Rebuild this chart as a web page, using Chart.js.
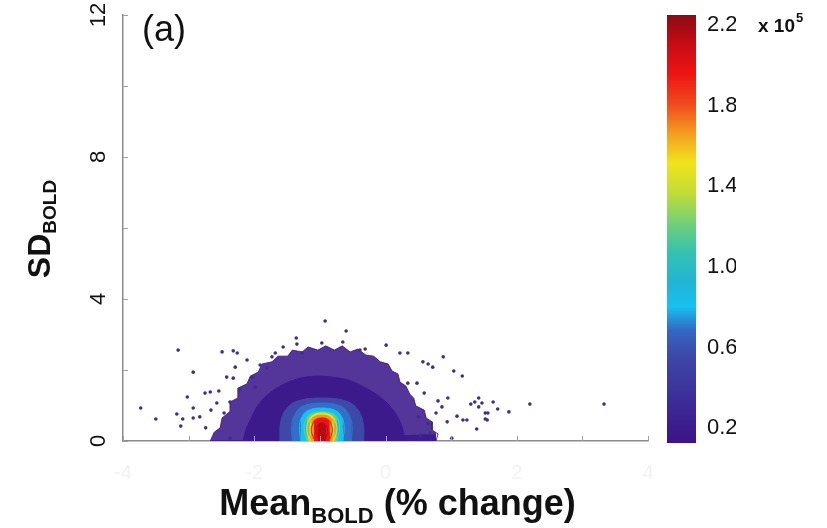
<!DOCTYPE html>
<html>
<head>
<meta charset="utf-8">
<script src="https://cdn.jsdelivr.net/npm/chart.js@4.4.1/dist/chart.umd.min.js"></script>
<style>
  html, body { margin: 0; padding: 0; background: #fff; }
  #wrap { width: 827px; height: 528px; }
</style>
</head>
<body>
<div id="wrap"><canvas id="densityChart" width="827" height="528"></canvas></div>
<script>
// axes
const xTickLabels = [-4, -2, 0, 2, 4];
const yTickLabels = [0, 4, 8, 12];

// colour bar (x 10^5 voxels)
const cbTicks = [0.2, 0.6, 1.0, 1.4, 1.8, 2.2];
const cbRange = [0.137, 2.25];
const cbStopValues = [0.137, 0.2, 0.566, 0.69, 0.81, 0.93, 1.08, 1.22, 1.37, 1.52, 1.66, 1.81, 1.96, 2.10, 2.25];
const cbStopColors = ['#3a1588', '#3c1a8c', '#3d48a8', '#3566c4', '#18c0f0', '#22b4d4', '#35c2b0',
  '#70d07a', '#c0dc38', '#f0e418', '#f4a020', '#f04a1c', '#ee1414', '#c80c14', '#8c0a14'];

// isolated voxels outside the dense cloud
const sparsePoints = [
  [-3.73, 0.93], [-3.50, 0.62], [-3.18, 0.76], [-3.12, 0.42], [-3.16, 2.56], [-3.09, 0.62],
  [-3.02, 1.24], [-2.93, 1.94], [-2.93, 0.93], [-2.93, 0.65], [-2.83, 0.68], [-2.75, 1.35],
  [-2.74, 0.37], [-2.67, 1.38], [-2.66, 0.87], [-2.57, 1.07], [-2.54, 1.41], [-2.49, 2.51],
  [-2.46, 0.79], [-2.42, 1.80], [-2.37, 1.10], [-2.37, 0.08], [-2.32, 2.54], [-2.32, 1.77],
  [-2.29, 2.08], [-2.26, 2.48], [-2.22, 1.44], [-2.11, 2.28], [-2.03, 1.80], [-1.99, 1.52],
  [-1.91, 2.14], [-1.81, 2.06], [-1.73, 2.37], [-1.68, 2.48], [-1.56, 2.65], [-1.36, 2.90],
  [-1.35, 2.73], [-1.27, 2.48], [-0.92, 3.38], [-0.60, 3.10], [-0.97, 2.76], [-0.65, 2.79],
  [-0.39, 2.56], [-0.31, 2.59], [0.01, 2.70], [0.22, 2.48], [0.34, 2.48], [0.57, 2.23],
  [0.65, 2.17], [0.72, 2.08], [0.88, 2.37], [1.04, 1.97], [1.17, 1.83], [0.34, 1.63],
  [0.48, 1.63], [0.59, 1.35], [0.95, 1.21], [0.80, 1.13], [1.36, 1.10], [1.30, 1.04],
  [1.42, 0.96], [1.47, 1.07], [1.42, 1.21], [1.64, 1.10], [1.71, 0.90], [1.88, 0.82],
  [2.20, 1.04], [3.33, 1.04], [1.09, 0.70], [1.18, 0.59], [0.94, 0.54], [0.77, 0.79],
  [0.65, 0.48], [0.53, 0.17], [1.01, 0.08], [1.24, 0.59], [1.52, 0.62], [1.39, 0.34],
  [1.52, 0.79], [1.55, 0.59], [1.56, 0.79], [0.68, 0.23], [0.50, 0.68], [0.86, 0.96]
];

// ragged outer edge of the cloud (sparse, speckled)
const fringeEdge = [
  [-2.67, 0], [-2.61, 0.25], [-2.52, 0.37], [-2.49, 0.65], [-2.38, 0.82], [-2.37, 1.10],
  [-2.25, 1.21], [-2.25, 1.49], [-2.11, 1.61], [-2.06, 1.83], [-1.94, 1.94], [-1.88, 2.17],
  [-1.73, 2.23], [-1.64, 2.39], [-1.49, 2.39], [-1.42, 2.56], [-1.27, 2.51], [-1.18, 2.65],
  [-1.03, 2.56], [-0.91, 2.68], [-0.78, 2.56], [-0.66, 2.68], [-0.54, 2.51], [-0.42, 2.59],
  [-0.30, 2.42], [-0.18, 2.39], [-0.08, 2.23], [0.04, 2.17], [0.10, 1.97], [0.19, 1.89],
  [0.22, 1.66], [0.31, 1.55], [0.37, 1.32], [0.43, 1.21], [0.46, 0.99], [0.59, 0.87],
  [0.62, 0.65], [0.71, 0.54], [0.71, 0.31], [0.80, 0.20], [0.77, 0]
];
const fringeDensity = 0.2;

// solid body of the cloud
const coreEdge = [
  [-2.17, 0], [-2.13, 0.31], [-2.06, 0.59], [-1.97, 0.93], [-1.85, 1.21], [-1.70, 1.44],
  [-1.52, 1.63], [-1.30, 1.77], [-1.06, 1.83], [-0.82, 1.80], [-0.57, 1.72], [-0.36, 1.55],
  [-0.14, 1.32], [0.04, 1.04], [0.16, 0.76], [0.25, 0.42], [0.30, 0]
];
const coreDensity = 0.2;

// density contours around the peak, outer to inner
const levelDensity = [0.57, 0.70, 0.81, 1.22, 1.50, 1.68, 1.96, 2.15];
const levelEdges = [
  [[-1.61, 0], [-1.60, 0.50], [-1.52, 0.88], [-1.35, 1.12], [-0.97, 1.21], [-0.59, 1.12], [-0.42, 0.88], [-0.34, 0.50], [-0.33, 0]],
  [[-1.42, 0], [-1.43, 0.46], [-1.37, 0.79], [-1.25, 0.99], [-0.97, 1.07], [-0.69, 0.99], [-0.57, 0.79], [-0.51, 0.46], [-0.52, 0]],
  [[-1.29, 0], [-1.31, 0.40], [-1.27, 0.69], [-1.18, 0.86], [-0.97, 0.93], [-0.76, 0.86], [-0.67, 0.69], [-0.63, 0.40], [-0.65, 0]],
  [[-1.20, 0.02], [-1.24, 0.36], [-1.21, 0.61], [-1.14, 0.76], [-0.97, 0.82], [-0.80, 0.76], [-0.73, 0.61], [-0.70, 0.36], [-0.74, 0.02]],
  [[-1.16, 0.03], [-1.20, 0.34], [-1.17, 0.58], [-1.11, 0.72], [-0.97, 0.79], [-0.83, 0.72], [-0.77, 0.58], [-0.74, 0.34], [-0.78, 0.03]],
  [[-1.13, 0.04], [-1.17, 0.32], [-1.15, 0.54], [-1.10, 0.67], [-0.97, 0.73], [-0.84, 0.67], [-0.79, 0.54], [-0.77, 0.32], [-0.81, 0.04]],
  [[-1.09, 0.06], [-1.13, 0.28], [-1.11, 0.48], [-1.07, 0.60], [-0.97, 0.65], [-0.87, 0.60], [-0.83, 0.48], [-0.81, 0.28], [-0.85, 0.06]],
  [[-1.03, 0.10], [-1.06, 0.24], [-1.05, 0.38], [-1.02, 0.47], [-0.97, 0.51], [-0.92, 0.47], [-0.89, 0.38], [-0.88, 0.24], [-0.91, 0.10]]
];

const FONT = '"Liberation Sans", Arial, Helvetica, sans-serif';

function hexToRgb(h) {
  const n = parseInt(h.slice(1), 16);
  return [(n >> 16) & 255, (n >> 8) & 255, n & 255];
}

// colour for a density value
function densityColor(v, alpha = 1) {
  let i = 0;
  while (i < cbStopValues.length - 2 && v > cbStopValues[i + 1]) i++;
  const t = Math.max(0, Math.min(1, (v - cbStopValues[i]) / (cbStopValues[i + 1] - cbStopValues[i])));
  const a = hexToRgb(cbStopColors[i]), b = hexToRgb(cbStopColors[i + 1]);
  const c = a.map((ch, k) => Math.round(ch + (b[k] - ch) * t));
  return `rgba(${c[0]},${c[1]},${c[2]},${alpha})`;
}

const toXY = pts => pts.map(p => ({ x: p[0], y: p[1] }));

function areaLayer(pts, color, order, tension) {
  return {
    data: toXY(pts),
    showLine: true,
    fill: 'origin',
    backgroundColor: color,
    borderColor: color,
    borderWidth: 1,
    pointRadius: 0,
    tension: tension,
    order: order
  };
}

const datasets = [
  {
    data: toXY(sparsePoints),
    showLine: false,
    pointRadius: 1.8,
    pointBackgroundColor: '#3e2f8a',
    pointBorderWidth: 0,
    order: 0
  },
  ...levelDensity.map((d, i) => areaLayer(levelEdges[i], densityColor(d), levelDensity.length - i, 0.4)),
  areaLayer(coreEdge, densityColor(coreDensity), 20, 0.3),
  areaLayer(fringeEdge, densityColor(fringeDensity, 0.88), 21, 0)
];

// small tick marks pointing into the plot
const inwardTicks = {
  id: 'inwardTicks',
  afterDraw(chart) {
    const { ctx, chartArea, scales } = chart;
    ctx.save();
    ctx.strokeStyle = '#a0a0a0';
    ctx.lineWidth = 1;
    scales.x.ticks.forEach(t => {
      const px = Math.round(scales.x.getPixelForValue(t.value)) + 0.5;
      ctx.beginPath();
      ctx.moveTo(px, chartArea.bottom);
      ctx.lineTo(px, chartArea.bottom - 5);
      ctx.stroke();
    });
    scales.y.ticks.forEach(t => {
      const py = Math.round(scales.y.getPixelForValue(t.value)) + 0.5;
      ctx.beginPath();
      ctx.moveTo(chartArea.left, py);
      ctx.lineTo(chartArea.left + 5, py);
      ctx.stroke();
    });
    ctx.restore();
  }
};

// gradient bar beside the colour-bar axis
const colorBar = {
  id: 'colorBar',
  afterDraw(chart) {
    const { ctx, chartArea } = chart;
    const s = chart.scales.cb;
    const x0 = chartArea.right + 19;
    const w = 29;
    const top = s.getPixelForValue(cbRange[1]);
    const bottom = s.getPixelForValue(cbRange[0]) + 2;
    const g = ctx.createLinearGradient(0, bottom, 0, top);
    cbStopValues.forEach((v, i) => {
      g.addColorStop((v - cbRange[0]) / (cbRange[1] - cbRange[0]), cbStopColors[i]);
    });
    ctx.save();
    ctx.fillStyle = g;
    ctx.fillRect(x0, top, w, bottom - top);
    ctx.restore();
  }
};

// panel letter, axis titles with subscripts, colour-bar exponent
const labels = {
  id: 'labels',
  afterDraw(chart) {
    const { ctx, chartArea } = chart;
    ctx.save();
    ctx.fillStyle = '#111';
    ctx.textBaseline = 'alphabetic';

    ctx.font = `36px ${FONT}`;
    ctx.textAlign = 'left';
    ctx.fillText('(a)', chartArea.left + 19, 41);

    // x title
    const big = `bold 36px ${FONT}`, small = `bold 22px ${FONT}`;
    ctx.font = big; const w1 = ctx.measureText('Mean').width;
    ctx.font = small; const w2 = ctx.measureText('BOLD').width;
    ctx.font = big; const w3 = ctx.measureText(' (% change)').width;
    let x = (chartArea.left + chartArea.right) / 2 + 12 - (w1 + w2 + w3) / 2;
    const base = 515;
    ctx.font = big; ctx.fillText('Mean', x, base); x += w1;
    ctx.font = small; ctx.fillText('BOLD', x, base + 8); x += w2;
    ctx.font = big; ctx.fillText(' (% change)', x, base);

    // y title, rotated
    ctx.save();
    ctx.translate(50, 229);
    ctx.rotate(-Math.PI / 2);
    const yb = `bold 32px ${FONT}`, ys = `bold 19px ${FONT}`;
    ctx.font = yb; const s1 = ctx.measureText('SD').width;
    ctx.font = ys; const s2 = ctx.measureText('BOLD').width;
    let t = -(s1 + s2) / 2;
    ctx.font = yb; ctx.fillText('SD', t, 0); t += s1;
    ctx.font = ys; ctx.fillText('BOLD', t, 6);
    ctx.restore();

    // colour-bar multiplier
    ctx.font = `bold 19px ${FONT}`;
    ctx.fillText('x 10', 758, 32);
    const wx = ctx.measureText('x 10').width;
    ctx.font = `bold 13px ${FONT}`;
    ctx.fillText('5', 758 + wx + 1, 22);
    ctx.restore();
  }
};

// fixed axis sizes so the plot box sits where the panel needs it
function fixSize(prop, size) {
  return s => {
    s[prop] = size;
    s.paddingTop = 0;
    s.paddingBottom = 0;
    s.paddingLeft = 0;
    s.paddingRight = 0;
  };
}

new Chart(document.getElementById('densityChart'), {
  type: 'scatter',
  data: { datasets },
  options: {
    responsive: false,
    animation: false,
    events: [],
    layout: { padding: { left: 85, right: 91, top: 15, bottom: 43 } },
    plugins: { legend: { display: false }, tooltip: { enabled: false } },
    scales: {
      x: {
        type: 'linear',
        min: -4, max: 4,
        grid: { display: false, drawTicks: false },
        border: { display: true, color: '#8c8c8c', width: 1.5 },
        afterFit: fixSize('height', 44),
        ticks: {
          stepSize: 1,
          padding: 20,
          color: '#f2f2f2',
          font: { family: FONT, size: 20 },
          callback: v => xTickLabels.includes(v) ? String(v) : ''
        }
      },
      y: {
        type: 'linear',
        min: 0, max: 12,
        grid: { display: false, drawTicks: false },
        border: { display: true, color: '#8c8c8c', width: 1.5 },
        afterFit: fixSize('width', 38),
        ticks: {
          stepSize: 2,
          padding: 12,
          minRotation: 90, maxRotation: 90,
          crossAlign: 'center',
          color: '#111',
          font: { family: FONT, size: 22 },
          callback: v => yTickLabels.includes(v) ? String(v) : ''
        }
      },
      cb: {
        type: 'linear',
        axis: 'y',
        position: 'right',
        min: cbRange[0], max: cbRange[1],
        grid: { display: false, drawTicks: false },
        border: { display: false },
        afterFit: fixSize('width', 88),
        afterBuildTicks: s => { s.ticks = cbTicks.map(v => ({ value: v })); },
        ticks: {
          padding: 59,
          color: '#111',
          font: { family: FONT, size: 22 },
          callback: v => v.toFixed(1)
        }
      }
    }
  },
  plugins: [inwardTicks, colorBar, labels]
});
</script>
</body>
</html>
